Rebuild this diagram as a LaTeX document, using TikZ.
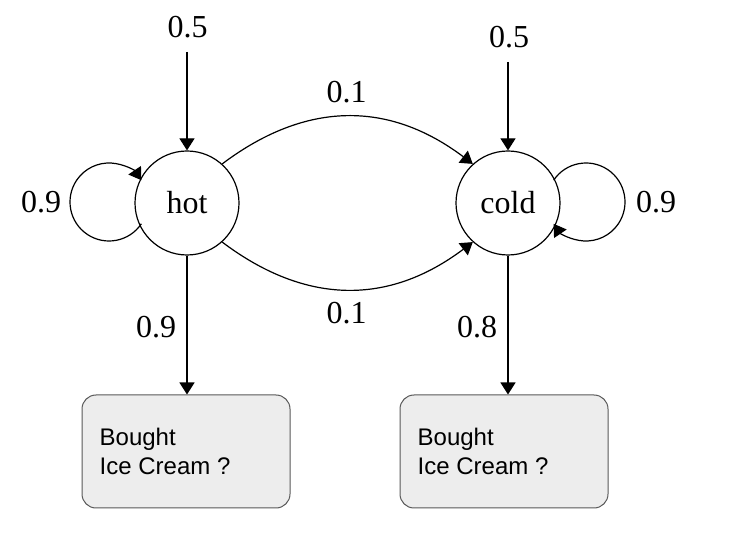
\documentclass[tikz,border=0pt]{standalone}
\usepackage{fontspec}
\setmainfont{Liberation Serif}
\newfontfamily\boxfont{Liberation Sans}
\usetikzlibrary{arrows.meta}
\tikzset{
	state/.style={draw, circle, minimum size=104pt, inner sep=0pt, line width=1.2pt, font=\fontsize{32}{38}\selectfont},
	prob/.style={inner sep=0pt, font=\fontsize{32}{38}\selectfont},
	obsbox/.style={draw=black!65, fill=black!7, line width=1pt, rounded corners=14pt, minimum width=208pt, minimum height=113pt},
	obstext/.style={align=left, inner sep=0pt, anchor=west, font=\boxfont\fontsize{24}{29}\selectfont},
	edge/.style={line width=1.2pt, -{Triangle[length=12pt,width=15pt]}}
}
\begin{document}
\begin{tikzpicture}[x=1pt,y=1pt]
		\useasboundingbox (0,0) rectangle (750,533);
		\def\r{39pt}
		% states
		\node[state] (hot) at (187,330) {hot};
		\node[state] (cold) at (508,330) {cold};
		% observations
		\node[obsbox] (obsH) at (186,81.5) {};
		\node[obsbox] (obsC) at (504,81.5) {};
		\node[obstext] (txtH) at ([xshift=18pt]obsH.west) {Bought\\Ice Cream ?};
		\node[obstext] (txtC) at ([xshift=18pt]obsC.west) {Bought\\Ice Cream ?};
		% start probabilities
		\coordinate (startH) at (187,481);
		\coordinate (startC) at (508,471);
		\draw[edge] (startH) -- (hot);
		\draw[edge] (startC) -- (cold);
		\node[prob] (pH) at (187.5,505.5) {0.5};
		\node[prob] (pC) at (509,496) {0.5};
		% transitions
		\draw[edge] (hot.48) .. controls +(37:105pt) and +(143:105pt) .. (cold.132);
		\draw[edge] (hot.-48) .. controls +(-37:105pt) and +(-143:105pt) .. (cold.-132);
		\coordinate (loopH) at (109,331);
		\coordinate (loopC) at (586,331);
		\draw[edge] ([shift={(-34:\r)}]loopH) arc[start angle=-34, end angle=-326, radius=\r];
		\draw[edge] ([shift={(146:\r)}]loopC) arc[start angle=146, end angle=-146, radius=\r];
		\node[prob] (tHC) at (346.5,440.5) {0.1};
		\node[prob] (tCH) at (346.5,220) {0.1};
		\node[prob] (tHH) at (41,330.5) {0.9};
		\node[prob] (tCC) at (656,330.5) {0.9};
		% emissions
		\draw[edge] (hot) -- (hot |- obsH.north);
		\draw[edge] (cold) -- (cold |- obsC.north);
		\node[prob] (eH) at (156,206) {0.9};
		\node[prob] (eC) at (477,206) {0.8};
\end{tikzpicture}
\end{document}
